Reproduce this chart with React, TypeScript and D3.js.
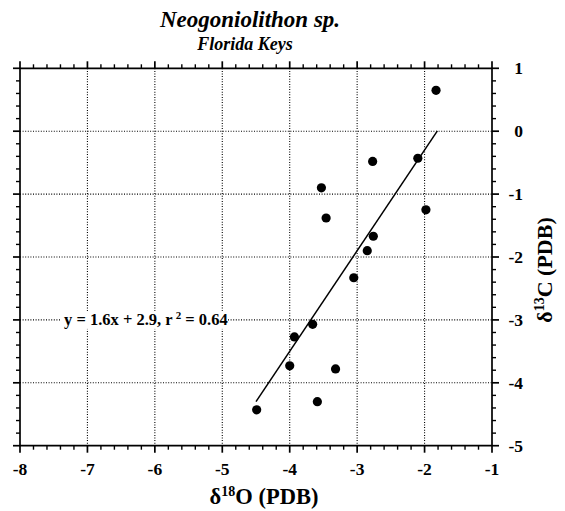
import React from "react";
import * as d3 from "d3";

const xValues = [-1.83, -2.77, -2.1, -3.53, -3.46, -1.98, -2.76, -2.85, -3.05, -3.66, -3.93, -4.0, -3.32, -3.59, -4.49];
const yValues = [0.65, -0.48, -0.43, -0.9, -1.38, -1.25, -1.67, -1.9, -2.33, -3.07, -3.27, -3.73, -3.78, -4.3, -4.43];
const xTicks = [-8, -7, -6, -5, -4, -3, -2, -1];
const yTicks = [1, 0, -1, -2, -3, -4, -5];
const fitSlope = 1.6;
const fitIntercept = 2.9;
const fitRange = [-4.5, -1.81];

const W = 565;
const H = 511;
const FONT = "'Liberation Serif', 'Times New Roman', serif";

export default function App() {
  const x = d3.scaleLinear().domain([-8, -1]).range([20, 492]);
  const y = d3.scaleLinear().domain([-5, 1]).range([445.7, 68.3]);
  const left = x(-8), right = x(-1), top = y(1), bottom = y(-5);

  const xMinor = d3.range(-8, -1 + 1e-9, 0.2).map((v) => +v.toFixed(2)).filter((v) => Math.abs(v - Math.round(v)) > 1e-6);
  const yMinor = d3.range(-5, 1 + 1e-9, 0.2).map((v) => +v.toFixed(2)).filter((v) => Math.abs(v - Math.round(v)) > 1e-6);

  const line = d3.line<number>().x((v) => x(v)).y((v) => y(fitSlope * v + fitIntercept));

  const MAJ = 7, MIN = 4;
  const sw = 1.7;

  return (
    <svg width={W} height={H} style={{ position: "absolute", left: 0, top: 0, background: "#fff" }} fontFamily={FONT}>
      <rect x={0} y={0} width={W} height={H} fill="#fff" />
      {/* grid */}
      {xTicks.filter((v) => v > -8 && v < -1).map((v) => (
        <line key={"gx" + v} x1={x(v)} x2={x(v)} y1={top} y2={bottom} stroke="#000" strokeWidth={1.1} strokeDasharray="1,1.6" />
      ))}
      {yTicks.filter((v) => v > -5 && v < 1).map((v) => (
        <line key={"gy" + v} x1={left} x2={right} y1={y(v)} y2={y(v)} stroke="#000" strokeWidth={1.1} strokeDasharray="1,1.6" />
      ))}
      {/* equation */}
      <rect x={61} y={y(-3) - 9} width={167} height={18} fill="#fff" />
      <text x={64} y={y(-3) + 5.5} fontSize={16.5} fontWeight="bold" fill="#000">
        y = 1.6x + 2.9, r
        <tspan dx={3} dy={-6} fontSize={11}>2</tspan>
        <tspan dy={6}> = 0.64</tspan>
      </text>
      {/* fit line */}
      <path d={line(fitRange) || ""} stroke="#000" strokeWidth={1.5} fill="none" />
      {/* points */}
      {xValues.map((v, i) => (
        <circle key={"p" + i} cx={x(v)} cy={y(yValues[i])} r={4.6} fill="#000" />
      ))}
      {/* frame */}
      <line x1={left} x2={right} y1={top} y2={top} stroke="#000" strokeWidth={sw} />
      <line x1={left} x2={right} y1={bottom} y2={bottom} stroke="#000" strokeWidth={sw} />
      <line x1={left} x2={left} y1={top} y2={bottom} stroke="#000" strokeWidth={sw} />
      <line x1={right} x2={right} y1={top} y2={bottom} stroke="#000" strokeWidth={sw} />
      {/* x ticks */}
      {xTicks.map((v) => (
        <g key={"xt" + v}>
          <line x1={x(v)} x2={x(v)} y1={top} y2={top - MAJ} stroke="#000" strokeWidth={sw} />
          <line x1={x(v)} x2={x(v)} y1={bottom} y2={bottom + MAJ} stroke="#000" strokeWidth={sw} />
          <text x={x(v)} y={475} fontSize={17.5} fontWeight="bold" textAnchor="middle" fill="#000">{v}</text>
        </g>
      ))}
      {xMinor.map((v) => (
        <g key={"xm" + v}>
          <line x1={x(v)} x2={x(v)} y1={top} y2={top - MIN} stroke="#000" strokeWidth={1.4} />
          <line x1={x(v)} x2={x(v)} y1={bottom} y2={bottom + MIN} stroke="#000" strokeWidth={1.4} />
        </g>
      ))}
      {/* y ticks */}
      {yTicks.map((v) => (
        <g key={"yt" + v}>
          <line x1={left} x2={left - MAJ} y1={y(v)} y2={y(v)} stroke="#000" strokeWidth={sw} />
          <line x1={right} x2={right + MAJ} y1={y(v)} y2={y(v)} stroke="#000" strokeWidth={sw} />
          <text x={523} y={y(v) + 6} fontSize={17.5} fontWeight="bold" textAnchor="end" fill="#000">{v}</text>
        </g>
      ))}
      {yMinor.map((v) => (
        <g key={"ym" + v}>
          <line x1={left} x2={left - MIN} y1={y(v)} y2={y(v)} stroke="#000" strokeWidth={1.4} />
          <line x1={right} x2={right + MIN} y1={y(v)} y2={y(v)} stroke="#000" strokeWidth={1.4} />
        </g>
      ))}
      {/* titles */}
      <text x={250} y={27} fontSize={23} fontWeight="bold" fontStyle="italic" textAnchor="middle" fill="#000">Neogoniolithon sp.</text>
      <text x={245} y={50} fontSize={18} fontWeight="bold" fontStyle="italic" textAnchor="middle" fill="#000">Florida Keys</text>
      {/* axis labels */}
      <text x={264} y={504} fontSize={22.5} fontWeight="bold" textAnchor="middle" fill="#000">
        δ<tspan dy={-8} fontSize={14}>18</tspan><tspan dy={8}>O (PDB)</tspan>
      </text>
      <text transform={`translate(552, 270) rotate(-90)`} fontSize={22} fontWeight="bold" textAnchor="middle" fill="#000">
        δ<tspan dy={-8} fontSize={14}>13</tspan><tspan dy={8}>C (PDB)</tspan>
      </text>
    </svg>
  );
}
